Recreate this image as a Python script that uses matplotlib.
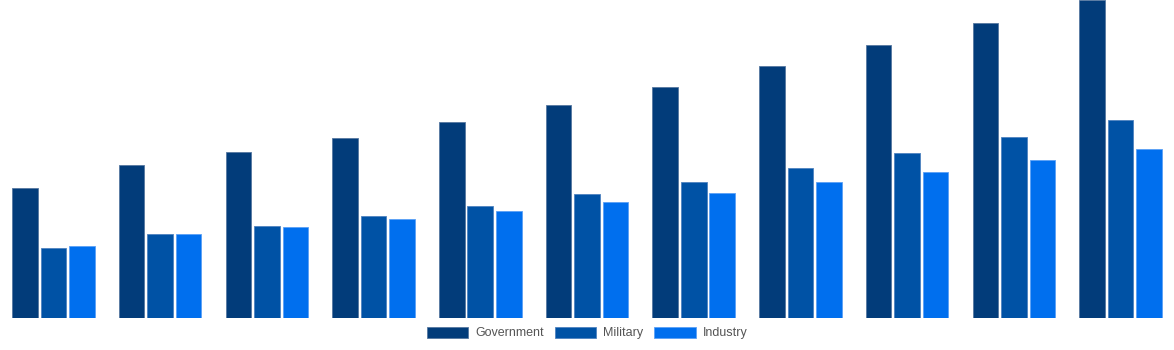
import matplotlib
matplotlib.use("Agg")
import matplotlib.pyplot as plt
import numpy as np
from matplotlib.patches import Patch

plt.rcParams['font.family'] = ['Liberation Sans', 'DejaVu Sans']

categories = [str(i) for i in range(1, 12)]
government = [130, 153, 166, 180, 196, 213, 231, 252, 273, 295, 318]
military = [70, 84, 92, 102, 112, 124, 136, 150, 165, 181, 198]
industry = [72, 84, 91, 99, 107, 116, 125, 136, 146, 158, 169]
series_names = ["Government", "Military", "Industry"]
colors = ["#023C7A", "#0052A5", "#006FEE"]
edges = ["#5577A0", "#4F82C0", "#5AA0F5"]

fig = plt.figure(figsize=(11.74, 3.5), dpi=100)
ax = fig.add_axes([0, 32 / 350, 1, 318 / 350])
x = np.arange(len(categories))
width = 0.24
offset = 0.267
for i, (vals, c, e) in enumerate(zip([government, military, industry], colors, edges)):
    ax.bar(x + (i - 1) * offset, vals, width=width, color=c, edgecolor=e, linewidth=0.6)
ax.set_xlim(-0.5, len(categories) - 0.5)
ax.set_ylim(0, max(government))
ax.axis("off")

handles = [Patch(facecolor=c, edgecolor=e, linewidth=0.6) for c, e in zip(colors, edges)]
fig.legend(handles, series_names, loc="center", bbox_to_anchor=(0.5, 1 - 333 / 350),
           ncol=3, frameon=False, fontsize=9, handlelength=3.3, handleheight=1.0,
           handletextpad=0.55, columnspacing=0.9, labelcolor="#555555")
fig.savefig("out.png", dpi=100)
